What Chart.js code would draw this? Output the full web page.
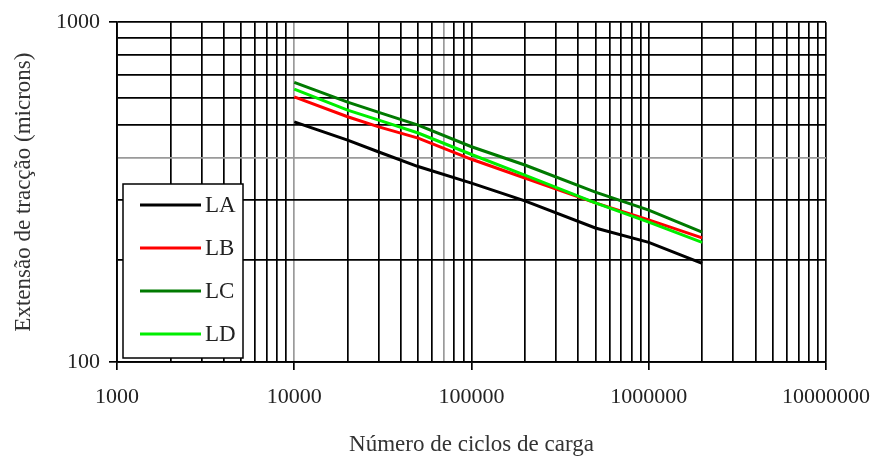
<!DOCTYPE html>
<html>
<head>
<meta charset="utf-8">
<script src="https://cdn.jsdelivr.net/npm/chart.js@4"></script>
<style>
  body { margin: 0; background: #fff; }
</style>
</head>
<body>
<canvas id="myChart" width="877" height="459"></canvas>
<script>
// load cycles and strain values
var cycles = [10000, 20000, 30000, 50000, 100000, 200000, 500000, 1000000, 2000000];
var la = [509, 450, 415, 376, 336, 298, 248, 225, 195];
var lb = [603, 527, 492, 456, 395, 348, 294, 262, 232];
var lc = [665, 582, 543, 498, 430, 380, 316, 280, 241];
var ld = [635, 551, 515, 472, 408, 355, 294, 258, 225];

// axis ticks
var xMajor = [1000, 10000, 100000, 1000000, 10000000];
var yMajor = [100, 1000];
var steps = [1, 2, 3, 4, 5, 6, 7, 8, 9];

function logTicks(majors) {
    var out = [];
    for (var i = 0; i < majors.length - 1; i++) {
        steps.forEach(function (s) { out.push({ value: majors[i] * s }); });
    }
    out.push({ value: majors[majors.length - 1] });
    return out;
}

function points(ys) {
    return cycles.map(function (c, i) { return { x: c, y: ys[i] }; });
}

var grayX = [10000, 70000];
var grayY = [400];

var boxLegend = {
    id: 'boxLegend',
    afterDraw: function (chart) {
        var c = chart.ctx;
        c.save();
        c.fillStyle = '#fff';
        c.fillRect(123, 184, 120, 174);
        c.strokeStyle = '#000';
        c.lineWidth = 1.5;
        c.strokeRect(123, 184, 120, 174);
        c.font = '23px "Liberation Serif"';
        c.textBaseline = 'middle';
        chart.data.datasets.forEach(function (ds, i) {
            var y = 205 + i * 43;
            c.strokeStyle = ds.borderColor;
            c.lineWidth = 3;
            c.beginPath();
            c.moveTo(140, y);
            c.lineTo(201, y);
            c.stroke();
            c.fillStyle = '#222';
            c.fillText(ds.label, 205, y + 1);
        });
        c.restore();
    }
};

Chart.defaults.font.family = '"Liberation Serif", serif';
Chart.defaults.color = '#222';

var ctx = document.getElementById('myChart').getContext('2d');
var myChart = new Chart(ctx, {
    type: 'line',
    data: {
        datasets: [
            { label: 'LA', data: points(la), borderColor: '#000000', order: 3 },
            { label: 'LB', data: points(lb), borderColor: '#ff0000', order: 2 },
            { label: 'LC', data: points(lc), borderColor: '#007a00', order: 1 },
            { label: 'LD', data: points(ld), borderColor: '#00ee00', order: 0 }
        ]
    },
    options: {
        responsive: false,
        animation: false,
        devicePixelRatio: 1,
        layout: { padding: { top: 22, right: 51, left: 0, bottom: 0 } },
        elements: {
            line: { borderWidth: 3, tension: 0, fill: false },
            point: { radius: 0 }
        },
        plugins: {
            legend: { display: false },
            tooltip: { enabled: false }
        },
        scales: {
            x: {
                type: 'logarithmic',
                min: 1000,
                max: 10000000,
                afterBuildTicks: function (s) { s.ticks = logTicks(xMajor); },
                afterFit: function (s) {
                    s.height = 97;
                    s.paddingLeft = 0;
                    s.paddingRight = 0;
                },
                border: { color: '#000', width: 1.8 },
                grid: {
                    color: function (c) { return grayX.indexOf(c.tick && c.tick.value) >= 0 ? '#9a9a9a' : '#000'; },
                    lineWidth: 1.7,
                    tickLength: 8,
                    tickColor: function (c) { return xMajor.indexOf(c.tick && c.tick.value) >= 0 ? '#000' : 'rgba(0,0,0,0)'; }
                },
                ticks: {
                    autoSkip: false,
                    maxRotation: 0,
                    padding: 14,
                    font: { size: 22 },
                    callback: function (v) { return xMajor.indexOf(v) >= 0 ? String(v) : ''; }
                },
                title: {
                    display: true,
                    text: 'Número de ciclos de carga',
                    font: { size: 23 },
                    color: '#333',
                    padding: { top: 0, bottom: 0 }
                }
            },
            y: {
                type: 'logarithmic',
                min: 100,
                max: 1000,
                afterBuildTicks: function (s) { s.ticks = logTicks(yMajor); },
                afterFit: function (s) { s.width = 117; },
                border: { color: '#000', width: 1.8 },
                grid: {
                    color: function (c) { return grayY.indexOf(c.tick && c.tick.value) >= 0 ? '#9a9a9a' : '#000'; },
                    lineWidth: 1.7,
                    tickLength: 8,
                    tickColor: function (c) { return yMajor.indexOf(c.tick && c.tick.value) >= 0 ? '#000' : 'rgba(0,0,0,0)'; }
                },
                ticks: {
                    autoSkip: false,
                    padding: 9,
                    font: { size: 22 },
                    callback: function (v) { return yMajor.indexOf(v) >= 0 ? String(v) : ''; }
                },
                title: {
                    display: true,
                    text: 'Extensão de tracção (microns)',
                    font: { size: 23 },
                    color: '#333',
                    padding: { top: 10, bottom: 0 }
                }
            }
        }
    },
    plugins: [boxLegend]
});
</script>
</body>
</html>
